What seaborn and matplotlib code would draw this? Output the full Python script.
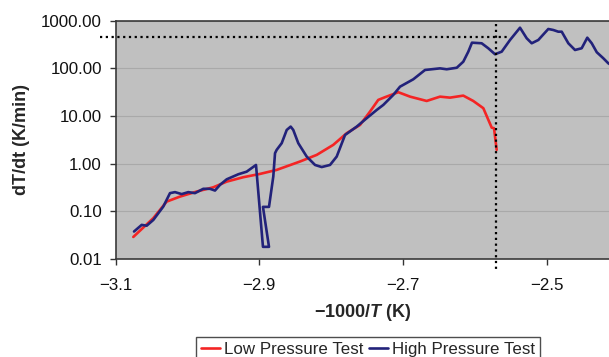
import numpy as np
import pandas as pd
import matplotlib
matplotlib.use("Agg")
import matplotlib.pyplot as plt
import seaborn as sns

# ---- data ----
low_x = [-3.0755, -3.0476, -3.029, -3.0104, -2.9872, -2.964, -2.9454, -2.9223, -2.899,
         -2.8758, -2.8433, -2.820, -2.797, -2.7783, -2.7597, -2.7458, -2.7343, -2.725,
         -2.7064, -2.690, -2.6669, -2.6483, -2.6344, -2.6159, -2.602, -2.588, -2.5763,
         -2.5731, -2.5694]
low_y = [0.029, 0.072, 0.160, 0.204, 0.26, 0.32, 0.42, 0.52, 0.61,
         0.74, 1.11, 1.53, 2.48, 4.36, 6.5, 12.4, 21.8, 24.8,
         31.6, 25.5, 20.7, 25.5, 24.3, 26.8, 20.7, 14.6, 5.7,
         5.55, 1.95]

high_x = [-3.0745, -3.0638, -3.0568, -3.0476, -3.0337, -3.0244, -3.0174, -3.0081, -2.9989,
          -2.9896, -2.978, -2.9687, -2.9617, -2.9547, -2.9454, -2.9292, -2.9176, -2.9046,
          -2.8949, -2.8865, -2.8949, -2.8865, -2.8805, -2.8781, -2.8758, -2.8688, -2.8618,
          -2.8563, -2.8527, -2.8457, -2.834, -2.8224, -2.8131, -2.8015, -2.7922, -2.7806,
          -2.7643, -2.7504, -2.7365, -2.7273, -2.7134, -2.704, -2.6855, -2.6692, -2.6483,
          -2.639, -2.625, -2.6159, -2.6089, -2.6038, -2.5903, -2.5811, -2.5717, -2.5624,
          -2.5508, -2.5369, -2.5276, -2.5206, -2.5114, -2.4975, -2.4905, -2.4836, -2.4788,
          -2.4696, -2.4603, -2.451, -2.4432, -2.437, -2.430, -2.4209, -2.414, -2.405]
high_y = [0.0377, 0.052, 0.050, 0.066, 0.126, 0.241, 0.253, 0.230, 0.253,
          0.241, 0.297, 0.297, 0.273, 0.36, 0.47, 0.60, 0.68, 0.94,
          0.018, 0.018, 0.124, 0.124, 0.54, 1.66, 1.95, 2.69, 5.1,
          6.0, 5.1, 2.69, 1.41, 0.94, 0.85, 0.94, 1.41, 4.0,
          6.0, 9.0, 13.4, 17.1, 27.7, 41.3, 59, 92.5, 100,
          95.7, 103, 138, 224, 346, 336, 264, 198, 224,
          394, 713, 428, 336, 394, 670, 638, 588, 588,
          336, 243, 264, 440, 336, 218, 163, 128, 105]

series_names = ["Low Pressure Test", "High Pressure Test"]
series_colors = ["#F42424", "#22227A"]
x_ticks = [-3.1, -2.9, -2.7, -2.5]
y_ticks = [0.01, 0.1, 1, 10, 100, 1000]
y_tick_labels = ["0.01", "0.10", "1.00", "10.00", "100.00", "1000.00"]
ref_y = 460.0
ref_x = -2.57

df = pd.concat([
    pd.DataFrame({"x": low_x, "y": low_y, "Test": series_names[0]}),
    pd.DataFrame({"x": high_x, "y": high_y, "Test": series_names[1]}),
], ignore_index=True)

sns.set_theme(style="white")
plt.rcParams["font.family"] = ["Liberation Sans", "DejaVu Sans"]
plt.rcParams["mathtext.fontset"] = "custom"
plt.rcParams["mathtext.it"] = "Liberation Sans:italic:bold"
plt.rcParams["mathtext.rm"] = "Liberation Sans:bold"

fig = plt.figure(figsize=(6.09, 3.57), dpi=100)
ax = fig.add_axes([115.7 / 609, 1 - 259 / 357, 1 - 115.7 / 609, (259 - 20.7) / 357])
ax.set_facecolor("#C0C0C0")

sns.lineplot(data=df, x="x", y="y", hue="Test", hue_order=series_names,
             palette=dict(zip(series_names, series_colors)), sort=False,
             estimator=None, linewidth=1.9, ax=ax, legend=True)

ax.set_yscale("log")
ax.set_ylim(0.01, 1000)
ax.set_xlim(-3.1, -3.1 + (609 - 115.7) / 718)
ax.set_yticks(y_ticks)
ax.set_yticklabels(y_tick_labels)
ax.yaxis.set_minor_locator(matplotlib.ticker.NullLocator())
ax.set_xticks(x_ticks)
ax.set_xticklabels(["\u2212" + f"{abs(v):.1f}" for v in x_ticks])
ax.tick_params(axis="both", which="major", direction="out", length=4, width=1,
               color="#333333", labelsize=12.2, labelcolor="#111111", pad=6)
ax.tick_params(axis="x", pad=9.5)
ax.tick_params(axis="y", left=True)
ax.tick_params(axis="x", bottom=True)

ax.grid(axis="y", which="major", color="#A9A9A9", linewidth=0.8)
ax.grid(axis="x", visible=False)
ax.set_axisbelow(True)

for side in ["left", "bottom", "top"]:
    ax.spines[side].set_color("#3A3A3A")
    ax.spines[side].set_linewidth(1.2)
ax.spines["right"].set_visible(False)

# dotted reference lines
ax.plot([-3.122, -2.552], [ref_y, ref_y], linestyle=(0, (1, 1.6)), color="black",
        linewidth=1.6, clip_on=False, zorder=5)
ax.plot([ref_x, ref_x], [870, 0.0054], linestyle=(0, (1, 1.6)), color="black",
        linewidth=1.6, clip_on=False, zorder=5)

ax.set_ylabel("dT/dt (K/min)", fontsize=13, fontweight="bold", labelpad=8)
ax.set_xlabel("\u22121000/$T$ (K)", fontsize=13, fontweight="bold", labelpad=7)

leg = ax.get_legend()
handles, labels = ax.get_legend_handles_labels()
leg.remove()
fig.legend(handles, labels, loc="upper center", bbox_to_anchor=(368 / 609, 1 - 336.5 / 357),
           ncol=2, frameon=True, fancybox=False, edgecolor="#222222", facecolor="white",
           fontsize=12.2, handlelength=1.1, handletextpad=0.25, columnspacing=0.35,
           borderpad=0.3, borderaxespad=0)
fig.legends[0].get_frame().set_linewidth(1.0)

fig.savefig("out.png", dpi=100)
